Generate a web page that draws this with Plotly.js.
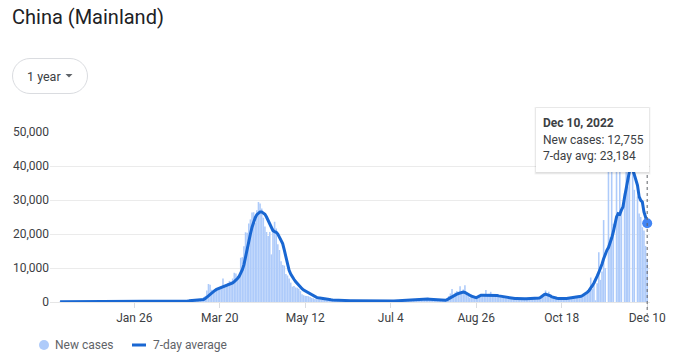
<!DOCTYPE html>
<html><head><meta charset="utf-8">
<script src="https://cdn.plot.ly/plotly-3.0.1.min.js"></script>
<style>html,body{margin:0;padding:0;background:#fff;} #chart{width:693px;height:358px;}</style>
</head><body><div id="chart"></div>
<script>
// ---- Data (daily, Dec 11 2021 -> Dec 10 2022) ----
const chartTitle = 'China (Mainland)';
const rangeLabel = '1 year';
const seriesNames = ['New cases', '7-day average'];
const tickDates = ['2022-01-26','2022-03-20','2022-05-12','2022-07-04','2022-08-26','2022-10-18','2022-12-10'];
const tickLabels = ['Jan 26','Mar 20','May 12','Jul 4','Aug 26','Oct 18','Dec 10'];
const yTicks = [0, 10000, 20000, 30000, 40000, 50000];

const casesDec21 = [120,90,110,100,130,110,140,120,150,110,130,160,190,200,230,240,210,220,200,230,250];
const avgDec21   = [110,110,110,112,115,117,120,122,125,126,128,132,140,150,160,170,180,195,205,215,225];
const casesJan = [240,230,220,200,210,190,180,200,190,210,220,230,240,250,260,230,240,220,200,190,180,170,160,190,180,170,160,150,140,130,120];
const avgJan   = [230,228,222,215,210,205,200,198,196,198,202,208,215,225,235,240,242,238,230,220,208,198,190,185,180,175,170,165,158,150,145];
const casesFeb = [110,100,100,110,120,130,140,150,160,170,180,190,200,180,170,160,170,190,210,230,250,270,280,300,320,340,380,400];
const avgFeb   = [138,130,122,118,116,118,122,128,136,145,155,165,172,175,176,175,178,182,190,200,212,225,240,255,270,290,310,330];
const casesMar = [250,300,350,400,500,500,550,600,1100,1400,1800,3400,5300,5100,3600,3300,3300,4000,4100,4300,4700,6900,4400,4600,5600,6200,6000,6900,8600,8400,7700];
const avgMar   = [350,380,400,420,450,480,500,520,600,750,1000,1400,1900,2400,2800,3100,3400,3700,3900,4100,4300,4400,4600,4700,4900,5100,5300,5600,6000,6400,6900];
const casesApr = [7500,13000,13200,16400,20500,20400,23100,24300,26300,26400,23300,27000,29400,29000,27500,24800,22200,20600,19400,20600,14000,21700,23600,21600,17000,15300,12000,10900,10700,8200];
const avgApr   = [7500,8300,9500,11000,13500,15500,17500,20000,22000,23500,24800,25700,26200,26500,26500,26200,25800,25000,24000,22800,21600,21000,20700,20500,20000,19100,18300,17200,15300,13200];
const casesMay = [7800,6900,5700,4500,4700,4300,4200,3900,3200,2300,2000,1800,1800,1700,1500,1200,1100,900,850,800,750,700,650,600,550,500,450,400,380,350,330];
const avgMay   = [11000,9300,8200,7300,6700,6000,5400,4800,4400,3900,3500,3200,2900,2600,2300,2000,1700,1500,1350,1250,1150,1050,1000,920,850,780,720,660,610,570,540];
const casesJun = [300,280,250,230,200,180,170,160,150,170,250,300,320,280,250,230,200,190,180,170,160,150,140,130,120,110,100,100,120,150];
const avgJun   = [520,500,480,460,440,420,400,390,380,370,360,350,340,330,320,310,300,290,280,270,260,250,240,230,220,210,200,200,200,200];
const casesJul = [200,250,300,350,330,400,420,450,480,500,550,500,480,520,600,650,700,750,800,850,900,950,1000,1050,900,800,750,700,650,600,550];
const avgJul   = [210,230,250,270,290,310,340,370,400,430,460,490,520,550,580,610,640,680,720,760,800,850,900,950,950,920,880,840,800,760,720];
const casesAug = [500,450,400,450,500,600,900,1200,1800,2500,3800,1500,2800,3200,2400,4600,2900,3700,4900,2500,1800,1300,2200,1200,1300,1000,1800,1900,2100,2000,1900];
const avgAug   = [680,640,600,560,520,480,500,700,1000,1300,1600,1900,2100,2300,2500,2700,2850,2900,2800,2600,2300,2000,1700,1500,1350,1300,1500,1800,2000,2000,2000];
const casesSep = [3500,1900,2400,3000,1800,1700,2000,1600,1500,1400,1300,1200,1100,1000,1050,1000,900,950,1000,900,950,1000,900,950,1000,900,950,1000,1000,1100];
const avgSep   = [2050,2100,2100,2050,2000,2000,1950,1900,1800,1700,1600,1500,1400,1300,1200,1100,1050,1000,1000,1000,950,950,950,950,950,950,950,950,950,1000];
const casesOct = [900,1000,1100,1300,1500,2000,2600,3400,2200,3000,1700,1500,1300,1200,1100,1000,1000,900,1000,950,1100,1200,1300,1400,1500,1600,1700,1800,1900,2000,2100];
const avgOct   = [1000,1000,1050,1150,1400,1800,2100,2300,2200,2000,1800,1500,1300,1200,1100,1050,1000,1000,1000,1000,1050,1100,1150,1200,1300,1400,1500,1550,1600,1700,1900];
const casesNov = [2200,2600,3000,3600,7200,3800,5000,500,5500,14600,6500,9000,24100,10000,0,42000,19000,45000,23000,0,46000,25000,41000,27000,0,32000,44000,34000,47000,0];
const avgNov   = [2200,2500,2900,3400,4000,4800,5600,6400,7600,8700,9800,11200,12700,14200,15200,16000,17200,18800,20600,23000,25000,26000,25800,27000,28000,30900,33500,35800,38500,39500];
const casesDec22 = [45000,33000,0,31000,26000,25000,22000,21000,16500,12755];
const avgDec22   = [39000,37500,35800,34300,31000,29900,29400,26500,25000,23184];

const newCases = [].concat(casesDec21,casesJan,casesFeb,casesMar,casesApr,casesMay,casesJun,casesJul,casesAug,casesSep,casesOct,casesNov,casesDec22);
const avg7 = [].concat(avgDec21,avgJan,avgFeb,avgMar,avgApr,avgMay,avgJun,avgJul,avgAug,avgSep,avgOct,avgNov,avgDec22);
const dates = newCases.map((_, i) => new Date(Date.UTC(2021, 11, 11 + i)).toISOString().slice(0, 10));

const n = dates.length;
const lastDate = dates[n - 1];
const monthNames = ['Jan','Feb','Mar','Apr','May','Jun','Jul','Aug','Sep','Oct','Nov','Dec'];
const ld = new Date(lastDate + 'T00:00:00Z');
const lastLabel = monthNames[ld.getUTCMonth()] + ' ' + ld.getUTCDate() + ', ' + ld.getUTCFullYear();
const fmt = v => Math.round(v).toLocaleString('en-US');

// ---- pixel -> paper helpers for decorations ----
const L = 50, R = 650, T = 132, B = 302;
const px = x => (x - L) / (R - L);
const py = y => (B - y) / (B - T);

const barColor = '#aecbfa', lineColor = '#1967d2';
const FONT = 'Roboto, Arial, sans-serif';

function roundRect(x0, y0, x1, y1, r) {
  const k = 0.5523 * r;
  const P = (x, y) => px(x) + ',' + py(y);
  return 'M' + P(x0 + r, y0) + ' L' + P(x1 - r, y0) +
    ' C' + P(x1 - r + k, y0) + ' ' + P(x1, y0 + r - k) + ' ' + P(x1, y0 + r) +
    ' L' + P(x1, y1 - r) +
    ' C' + P(x1, y1 - r + k) + ' ' + P(x1 - r + k, y1) + ' ' + P(x1 - r, y1) +
    ' L' + P(x0 + r, y1) +
    ' C' + P(x0 + r - k, y1) + ' ' + P(x0, y1 - r + k) + ' ' + P(x0, y1 - r) +
    ' L' + P(x0, y0 + r) +
    ' C' + P(x0, y0 + r - k) + ' ' + P(x0 + r - k, y0) + ' ' + P(x0 + r, y0) + ' Z';
}

const traces = [
  { type: 'bar', x: dates, y: newCases, name: seriesNames[0],
    marker: { color: barColor, line: { width: 0 } }, hoverinfo: 'skip' },
  { type: 'scatter', mode: 'lines', x: dates, y: avg7, name: seriesNames[1],
    line: { color: lineColor, width: 3 }, hoverinfo: 'skip' },
  { type: 'scatter', mode: 'markers', x: [lastDate], y: [avg7[n - 1]], showlegend: false,
    marker: { color: '#4285f4', size: 10 }, hoverinfo: 'skip', cliponaxis: false }
];

const shapes = [
  { type: 'line', xref: 'x', yref: 'paper', x0: lastDate, x1: lastDate, y0: py(322), y1: 1,
    line: { color: '#5f6368', width: 1, dash: 'dot' }, layer: 'above' },
  { type: 'rect', xref: 'paper', yref: 'paper', x0: px(534.5), x1: px(650.5), y0: py(174.5), y1: py(107),
    fillcolor: 'rgba(0,0,0,0.05)', line: { width: 0 }, layer: 'above' },
  { type: 'rect', xref: 'paper', yref: 'paper', x0: px(535.5), x1: px(649.5), y0: py(173.5), y1: py(107.5),
    fillcolor: 'rgba(0,0,0,0.08)', line: { width: 0 }, layer: 'above' },
  { type: 'rect', xref: 'paper', yref: 'paper', x0: px(536), x1: px(649), y0: py(172), y1: py(108),
    fillcolor: '#ffffff', line: { width: 0 }, layer: 'above' },
  { type: 'path', xref: 'paper', yref: 'paper', path: roundRect(12.5, 58.5, 87.5, 93.5, 17.5),
    fillcolor: '#ffffff', line: { color: '#dadce0', width: 1 }, layer: 'above' },
  { type: 'path', xref: 'paper', yref: 'paper',
    path: 'M' + px(65.5) + ',' + py(74) + ' L' + px(72.5) + ',' + py(74) + ' L' + px(69) + ',' + py(77.5) + ' Z',
    fillcolor: '#5f6368', line: { width: 0 }, layer: 'above' },
  { type: 'circle', xref: 'paper', yref: 'paper', x0: px(39), x1: px(49), y0: py(350), y1: py(340),
    fillcolor: barColor, line: { width: 0 }, layer: 'above' },
  { type: 'line', xref: 'paper', yref: 'paper', x0: px(132), x1: px(146), y0: py(345), y1: py(345),
    line: { color: lineColor, width: 3 }, layer: 'above' }
];

const ann = (text, x, y, opts) => Object.assign({
  text: text, xref: 'paper', yref: 'paper', x: px(x), y: py(y), xanchor: 'left', yanchor: 'middle',
  showarrow: false, font: { family: FONT, size: 12, color: '#3c4043' }
}, opts || {});

const annotations = [
  ann('<b>' + lastLabel + '</b>', 540.5, 123),
  ann('New cases: ' + fmt(newCases[n - 1]), 540.5, 139.5),
  ann('7-day avg: ' + fmt(avg7[n - 1]), 540.5, 156),
  ann(rangeLabel, 24.5, 76, { font: { family: FONT, size: 12.5, color: '#3c4043' } }),
  ann(seriesNames[0], 53, 345, { font: { family: FONT, size: 12, color: '#5f6368' } }),
  ann(seriesNames[1], 151, 345, { font: { family: FONT, size: 12, color: '#5f6368' } })
];

const layout = {
  width: 693, height: 358,
  margin: { l: L, r: 693 - R, t: T, b: 358 - B },
  paper_bgcolor: '#ffffff', plot_bgcolor: '#ffffff',
  showlegend: false, bargap: 0.02,
  font: { family: FONT, size: 12, color: '#3c4043' },
  title: { text: chartTitle, xref: 'container', yref: 'container', x: 12 / 693, xanchor: 'left',
           y: 1 - 17 / 358, yanchor: 'middle', font: { family: FONT, size: 20, color: '#202124' } },
  xaxis: { type: 'date', range: ['2021-12-04 18:00', '2022-12-11 18:00'],
           tickmode: 'array', tickvals: tickDates, ticktext: tickLabels,
           ticks: 'outside', ticklen: 5, tickcolor: '#dadce0', tickwidth: 1,
           showgrid: false, zeroline: false, showline: false,
           tickfont: { family: FONT, size: 12, color: '#3c4043' }, fixedrange: true },
  yaxis: { range: [0, 50000], tickmode: 'array', tickvals: yTicks, ticktext: yTicks.map(fmt),
           showgrid: true, gridcolor: '#ebebeb', gridwidth: 1,
           zeroline: true, zerolinecolor: '#e6e6e6', zerolinewidth: 1, showline: false, ticks: '',
           tickfont: { family: FONT, size: 12, color: '#3c4043' }, fixedrange: true },
  shapes: shapes, annotations: annotations
};

Plotly.newPlot('chart', traces, layout, { staticPlot: true, displayModeBar: false });
</script></body></html>
